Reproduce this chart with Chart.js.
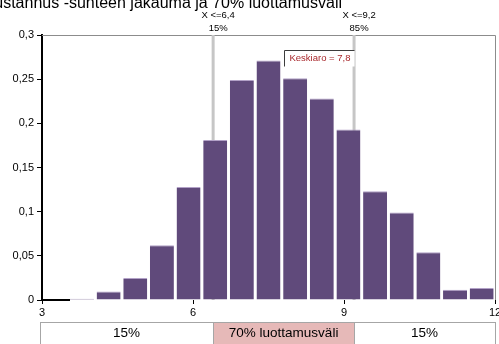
<!DOCTYPE html>
<html>
<head>
<meta charset="utf-8">
<script src="https://cdn.jsdelivr.net/npm/chart.js@4/dist/chart.umd.min.js"></script>
<style>
  html, body { margin: 0; padding: 0; background: #fff; }
  #wrap { width: 499px; height: 344px; position: relative; overflow: hidden; }
</style>
</head>
<body>
<div id="wrap"><canvas id="c" width="499" height="344"></canvas></div>
<script>
// ---- data ----
const titleText = 'Kustannus -sunteen jakauma ja 70% luottamusväli';
const binLabels = ['1', '2', '3', '4', '5', '6', '7', '8', '9', '10', '11', '12', '13', '14', '15', '16', '17'];
const probabilities = [0, 0.0015, 0.0095, 0.025, 0.062, 0.128, 0.181, 0.249, 0.271, 0.251, 0.228, 0.193, 0.123, 0.099, 0.054, 0.0115, 0.0135];
const xTickValues = [3, 6, 9, 12];
const yTickValues = [0, 0.05, 0.1, 0.15, 0.2, 0.25, 0.3];
const lowerBound = 6.4;
const upperBound = 9.2;
const meanValue = 7.8;
const lowerLabel = ['X <=6,4', '15%'];
const upperLabel = ['X <=9,2', '85%'];
const meanLabel = 'Keskiaro = 7,8';
const bandLabels = ['15%', '70% luottamusväli', '15%'];

const FONT = '"Liberation Sans", Arial, sans-serif';
const fmt = v => String(+v.toFixed(2)).replace('.', ',');

const decor = {
  id: 'decor',
  beforeDatasetsDraw(chart) {
    const { ctx, chartArea: a } = chart;
    const xv = chart.scales.xv;
    ctx.save();
    // plot frame (top and right)
    ctx.strokeStyle = '#8c8c8c';
    ctx.lineWidth = 1;
    ctx.beginPath();
    ctx.moveTo(a.left, a.top + 0.5);
    ctx.lineTo(a.right + 0.5, a.top + 0.5);
    ctx.lineTo(a.right + 0.5, a.bottom);
    ctx.stroke();
    // percentile lines, behind the bars
    ctx.strokeStyle = '#c6c6c6';
    ctx.lineWidth = 3;
    [lowerBound, upperBound].forEach(v => {
      const px = xv.getPixelForValue(v);
      ctx.beginPath();
      ctx.moveTo(px, a.top);
      ctx.lineTo(px, a.bottom);
      ctx.stroke();
    });
    // horizontal axis line, visible up to the first non-empty bar
    const bars = chart.getDatasetMeta(0).data;
    const stop = bars[1].x - bars[1].width / 2;
    ctx.strokeStyle = '#000';
    ctx.lineWidth = 2;
    ctx.beginPath();
    ctx.moveTo(a.left - 1, a.bottom);
    ctx.lineTo(stop, a.bottom);
    ctx.stroke();
    ctx.restore();
  },
  afterDatasetsDraw(chart) {
    const { ctx, chartArea: a } = chart;
    const xv = chart.scales.xv;
    ctx.save();

    // title
    ctx.fillStyle = '#000';
    ctx.font = '16px ' + FONT;
    ctx.textAlign = 'right';
    ctx.textBaseline = 'alphabetic';
    ctx.fillText(titleText, 342, 7.5);

    // percentile labels above the plot
    ctx.font = '9.5px ' + FONT;
    ctx.textAlign = 'center';
    ctx.textBaseline = 'middle';
    [[lowerBound, lowerLabel], [upperBound, upperLabel]].forEach(([v, lines]) => {
      const px = xv.getPixelForValue(v) + 5;
      ctx.fillText(lines[0], px, 15);
      ctx.fillText(lines[1], px, 28);
    });

    // mean value callout
    const mx = Math.round(xv.getPixelForValue(meanValue)) + 0.5;
    const by = 50.5;
    ctx.fillStyle = '#fff';
    ctx.fillRect(mx, by, 70, 16);
    ctx.strokeStyle = '#3c3c3c';
    ctx.lineWidth = 1;
    ctx.beginPath();
    ctx.moveTo(mx, by + 16);
    ctx.lineTo(mx, by);
    ctx.lineTo(mx + 70, by);
    ctx.stroke();
    ctx.fillStyle = '#a8282c';
    ctx.textAlign = 'left';
    ctx.fillText(meanLabel, mx + 5, by + 7.5);

    // confidence band row under the axis
    const top = a.bottom + 22.5;
    const x0 = a.left - 2;
    const x1 = xv.getPixelForValue(lowerBound);
    const x2 = xv.getPixelForValue(upperBound);
    const x3 = a.right;
    const cells = [[x0, x1, '#ffffff'], [x1, x2, '#e6b9b8'], [x2, x3, '#ffffff']];
    ctx.font = '13.5px ' + FONT;
    ctx.textAlign = 'center';
    ctx.textBaseline = 'middle';
    cells.forEach(([l, r, fill], i) => {
      ctx.fillStyle = fill;
      ctx.fillRect(l, top, r - l, 40);
      ctx.strokeStyle = '#a6a6a6';
      ctx.lineWidth = 1;
      ctx.strokeRect(Math.round(l) + 0.5, top, Math.round(r - l), 40);
      ctx.fillStyle = '#000';
      ctx.fillText(bandLabels[i], (l + r) / 2, top + 11);
    });
    ctx.restore();
  }
};

new Chart(document.getElementById('c'), {
  type: 'bar',
  data: {
    labels: binLabels,
    datasets: [{
      data: probabilities,
      backgroundColor: '#604a7b',
      borderColor: '#b2a1c7',
      borderWidth: { top: 1, left: 0, right: 0, bottom: 0 },
      borderSkipped: 'start',
      categoryPercentage: 1,
      barPercentage: 0.9,
      xAxisID: 'x',
      yAxisID: 'y'
    }]
  },
  options: {
    responsive: false,
    animation: false,
    devicePixelRatio: 1,
    layout: { padding: { top: 35, right: 4, bottom: 22, left: 0 } },
    plugins: { legend: { display: false }, tooltip: { enabled: false }, title: { display: false } },
    scales: {
      x: { type: 'category', display: false, offset: true },
      xv: {
        type: 'linear',
        position: 'bottom',
        min: 3,
        max: 12,
        offset: false,
        afterBuildTicks: s => { s.ticks = xTickValues.map(v => ({ value: v })); },
        afterFit: s => { s.height = 22; s.paddingLeft = 0; s.paddingRight = 0; },
        border: { display: false },
        grid: { offset: false, drawOnChartArea: false, drawTicks: true, tickLength: 4, color: '#000' },
        ticks: { color: '#000', font: { family: FONT, size: 11 }, padding: 2, maxRotation: 0, callback: v => String(v) }
      },
      y: {
        min: 0,
        max: 0.3,
        afterBuildTicks: s => { s.ticks = yTickValues.map(v => ({ value: v })); },
        afterFit: s => { s.width = 42; },
        border: { display: true, color: '#000', width: 2 },
        grid: { drawOnChartArea: false, drawTicks: true, tickLength: 5, color: '#000' },
        ticks: { color: '#000', font: { family: FONT, size: 11 }, padding: 3, callback: v => fmt(v) }
      }
    }
  },
  plugins: [decor]
});
</script>
</body>
</html>
